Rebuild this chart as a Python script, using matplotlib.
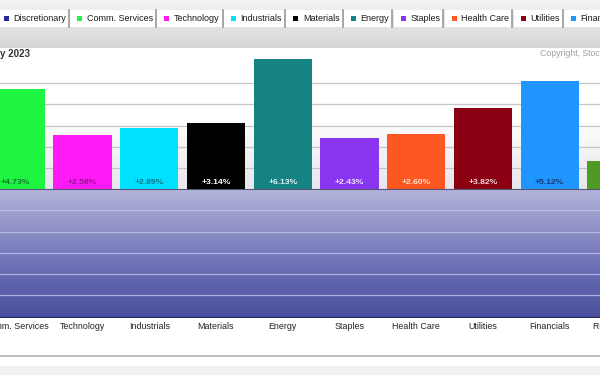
import numpy as np
import matplotlib.pyplot as plt
from matplotlib.patches import Rectangle
from matplotlib.colors import LinearSegmentedColormap

plt.rcParams['font.family'] = ['Liberation Sans', 'DejaVu Sans']

# --- data ---
sectors = ['Discretionary', 'Comm. Services', 'Technology', 'Industrials', 'Materials',
           'Energy', 'Staples', 'Health Care', 'Utilities', 'Financials', 'Real Estate']
pct_change = [3.90, 4.73, 2.58, 2.89, 3.14, 6.13, 2.43, 2.60, 3.82, 5.12, 1.35]
bar_colors = ['#28289e', '#1ef542', '#ff1af5', '#00e1ff', '#000000', '#158383',
              '#8a35f0', '#ff5722', '#8b0013', '#1e95ff', '#4f9a22']
label_colors = ['#d8d8ff', '#127a2a', '#9a1096', '#0a7a8c', '#ffffff', '#e2f4f4',
                '#f0e6ff', '#ffe2cc', '#f6d8dc', '#123a78', '#e0f0d0']

W, H = 600, 375
fig = plt.figure(figsize=(6, 3.75), dpi=100)
fig.patch.set_facecolor('white')

# background / decoration layer in pixel coords
bg = fig.add_axes([0, 0, 1, 1], zorder=0)
bg.set_xlim(0, W)
bg.set_ylim(H, 0)
bg.axis('off')

top_cmap = LinearSegmentedColormap.from_list('top', ['#f3f3f3', '#d6d6d6'])
bg.imshow(np.linspace(0, 1, 50).reshape(-1, 1), cmap=top_cmap, aspect='auto',
          extent=[0, W, 48, 0], zorder=0)
bg.axhline(356, color='#b4b4b4', lw=1.2)
bg.add_patch(Rectangle((0, 366), W, 10, color='#f1f1f1', lw=0))

# --- main chart ---
ax = fig.add_axes([0, 1 - 317.5 / H, 1, (317.5 - 48) / H], zorder=1)
x = np.arange(len(sectors))
x0, x1 = 0.764, 9.753
ytop, ybot = 6.665, -6.05
ax.set_xlim(x0, x1)
ax.set_ylim(ybot, ytop)

up_cmap = LinearSegmentedColormap.from_list('up', ['#ffffff', '#ffffff', '#e6e6ec'])
dn_cmap = LinearSegmentedColormap.from_list('dn', ['#b2b4da', '#8c8ec6', '#6468b0', '#4c509e'])
grad = np.linspace(0, 1, 100).reshape(-1, 1)
# origin='upper': first row sits at the "top" value of the extent
ax.imshow(grad, cmap=up_cmap, aspect='auto', extent=[x0, x1, 0, ytop], zorder=0)
ax.imshow(grad, cmap=dn_cmap, aspect='auto', extent=[x0, x1, ybot, 0], zorder=0)

for g in range(1, 6):
    ax.axhline(g, color='#c6c6c8', lw=0.9, zorder=1)
    ax.axhline(-g, color='#c4c6ea', lw=0.9, alpha=0.8, zorder=1)

ax.bar(x, pct_change, width=0.873, color=bar_colors, zorder=3)
ax.axhline(0, color='#555577', lw=0.8, zorder=4)
ax.axhline(ybot, color='#2a2c6a', lw=2.5, zorder=4)

for xi, v, c in zip(x, pct_change, label_colors):
    ax.text(xi, 0.32, f'+{v:.2f}%', ha='center', va='center', fontsize=6.1,
            fontweight='bold', color=c, zorder=5, clip_on=True)

ax.set_xticks([])
ax.set_yticks([])
for s in ax.spines.values():
    s.set_visible(False)

# category labels under the plot
for xi, name in zip(x, sectors):
    ax.text(xi, -0.017, name, transform=ax.get_xaxis_transform(), ha='center',
            va='top', fontsize=6.4, color='#222222')

fig.text(0 / W, 1 - 54 / H, 'y 2023', ha='left', va='center', fontsize=7,
         fontweight='bold', color='#333333', zorder=6)
fig.text(540 / W, 1 - 54 / H, 'Copyright, Stoc', ha='left', va='center',
         fontsize=6.3, color='#a0a0a0', zorder=6)

# --- legend strip ---
renderer = fig.canvas.get_renderer()
sep = -5.0
for name, c in zip(sectors, bar_colors):
    t = bg.text(sep + 18, 18.5, name, ha='left', va='center', fontsize=6.45,
                color='#1a1a1a', zorder=3)
    tw = t.get_window_extent(renderer).width
    end = sep + 18 + tw + 3
    bg.add_patch(Rectangle((sep + 1.5, 10), end - sep - 1.5, 17, facecolor='white',
                           edgecolor='none', zorder=2))
    bg.plot([end, end], [10, 27], color='#9a9a9a', lw=1.2, zorder=3)
    bg.add_patch(Rectangle((sep + 8.5, 16), 5, 5, facecolor=c, edgecolor='none', zorder=3))
    sep = end

fig.savefig('out.png', dpi=100)
